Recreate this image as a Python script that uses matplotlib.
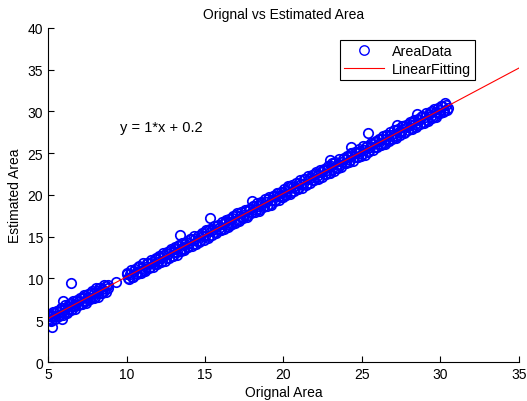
import matplotlib
matplotlib.use("Agg")
import matplotlib.pyplot as plt

plt.rcParams['font.family'] = ['Liberation Sans', 'DejaVu Sans']

# lower cluster of measured areas (middle of band)
x_low = [5.00, 5.08, 5.17, 5.27, 5.36, 5.44, 5.55, 5.63, 5.72, 5.81,
         5.90, 5.99, 6.08, 6.18, 6.27, 6.35, 6.46, 6.54, 6.63, 6.72,
         6.82, 6.90, 7.00, 7.09, 7.18, 7.27, 7.36, 7.45, 7.55, 7.63,
         7.72, 7.82, 7.91, 8.00, 8.09, 8.18, 8.27, 8.37, 8.46, 8.55,
         8.68, 8.80]
y_low = [5.55, 4.98, 5.47, 5.07, 5.81, 5.49, 6.15, 5.48, 5.97, 5.76,
         6.45, 5.89, 6.38, 5.98, 6.72, 6.40, 7.06, 6.39, 6.88, 6.67,
         7.37, 6.80, 7.30, 6.89, 7.63, 7.32, 7.96, 7.30, 7.80, 7.58,
         8.27, 7.72, 8.21, 7.80, 8.54, 8.23, 8.87, 8.22, 8.71, 8.50,
         9.05, 8.85]

# lower cluster, points along the upper and lower edge
x_low_top = [5.06, 5.31, 5.56, 5.81, 6.06, 6.31, 6.56, 6.81, 7.06, 7.31, 7.56, 7.81, 8.06, 8.31, 8.56]
y_low_top = [5.71, 6.03, 6.14, 6.49, 6.81, 6.91, 7.26, 7.36, 7.71, 8.03, 8.14, 8.49, 8.81, 8.91, 9.26]
x_low_bot = [5.19, 5.44, 5.69, 5.94, 6.19, 6.44, 6.69, 6.94, 7.19, 7.44, 7.69, 7.94, 8.19, 8.44, 8.69]
y_low_bot = [4.94, 5.12, 5.51, 5.66, 5.84, 6.24, 6.39, 6.79, 6.94, 7.12, 7.51, 7.66, 7.84, 8.24, 8.39]

# upper cluster (middle of band)
x_high = [10.00, 10.12, 10.25, 10.37, 10.50, 10.62, 10.74, 10.87, 10.99, 11.12,
          11.25, 11.37, 11.50, 11.62, 11.75, 11.87, 11.99, 12.12, 12.24, 12.37,
          12.50, 12.62, 12.75, 12.87, 13.00, 13.12, 13.24, 13.37, 13.49, 13.62,
          13.75, 13.87, 14.00, 14.12, 14.25, 14.37, 14.49, 14.62, 14.74, 14.87,
          15.00, 15.12, 15.25, 15.37, 15.50, 15.62, 15.74, 15.87, 15.99, 16.12,
          16.25, 16.37, 16.50, 16.62, 16.75, 16.87, 16.99, 17.12, 17.24, 17.37,
          17.50, 17.62, 17.75, 17.87, 18.00, 18.12, 18.24, 18.37, 18.49, 18.62,
          18.75, 18.87, 19.00, 19.12, 19.25, 19.37, 19.49, 19.62, 19.74, 19.87,
          20.00, 20.12, 20.25, 20.37, 20.50, 20.62, 20.74, 20.87, 20.99, 21.12,
          21.25, 21.37, 21.50, 21.62, 21.75, 21.87, 21.99, 22.12, 22.24, 22.37,
          22.50, 22.62, 22.75, 22.87, 23.00, 23.12, 23.24, 23.37, 23.49, 23.62,
          23.75, 23.87, 24.00, 24.12, 24.25, 24.37, 24.49, 24.62, 24.74, 24.87,
          25.00, 25.12, 25.25, 25.37, 25.50, 25.62, 25.74, 25.87, 25.99, 26.12,
          26.25, 26.37, 26.50, 26.62, 26.75, 26.87, 26.99, 27.12, 27.24, 27.37,
          27.50, 27.62, 27.75, 27.87, 28.00, 28.12, 28.24, 28.37, 28.49, 28.62,
          28.75, 28.87, 29.00, 29.12, 29.25, 29.37, 29.49, 29.62, 29.74, 29.87,
          30.00, 30.12, 30.25, 30.37, 30.50]
y_high = [10.55, 10.02, 10.55, 10.17, 10.95, 10.67, 11.34, 10.72, 11.24, 11.07,
          11.40, 11.87, 11.35, 12.02, 11.70, 12.47, 11.99, 12.47, 12.04, 12.82,
          12.40, 12.92, 13.30, 12.67, 13.20, 13.57, 13.19, 13.97, 13.59, 13.47,
          14.15, 13.72, 14.25, 14.67, 14.15, 14.72, 14.54, 14.42, 15.24, 15.07,
          15.05, 15.72, 15.05, 15.67, 15.95, 15.57, 16.29, 16.02, 15.84, 16.52,
          16.80, 16.27, 16.80, 16.42, 17.20, 16.92, 17.59, 16.97, 17.49, 17.32,
          17.65, 18.12, 17.60, 18.27, 17.95, 18.72, 18.24, 18.72, 18.29, 19.07,
          18.65, 19.17, 19.55, 18.92, 19.45, 19.82, 19.44, 20.22, 19.84, 19.72,
          20.40, 19.97, 20.50, 20.92, 20.40, 20.97, 20.79, 20.67, 21.49, 21.32,
          21.30, 21.97, 21.30, 21.92, 22.20, 21.82, 22.54, 22.27, 22.09, 22.77,
          23.05, 22.52, 23.05, 22.67, 23.45, 23.17, 23.84, 23.22, 23.74, 23.57,
          23.90, 24.37, 23.85, 24.52, 24.20, 24.97, 24.49, 24.97, 24.54, 25.32,
          24.90, 25.42, 25.80, 25.17, 25.70, 26.07, 25.69, 26.47, 26.09, 25.97,
          26.65, 26.22, 26.75, 27.17, 26.65, 27.22, 27.04, 26.92, 27.74, 27.57,
          27.55, 28.22, 27.55, 28.17, 28.45, 28.07, 28.79, 28.52, 28.34, 29.02,
          29.30, 28.77, 29.30, 28.92, 29.70, 29.42, 30.09, 29.47, 29.99, 29.82,
          30.15, 30.62, 30.10, 30.77, 30.45]

# upper cluster, points along the upper edge
x_high_top = [10.06, 10.31, 10.56, 10.81, 11.06, 11.31, 11.56, 11.81,
              12.06, 12.31, 12.56, 12.81, 13.06, 13.31, 13.56, 13.81,
              14.06, 14.31, 14.56, 14.81, 15.06, 15.31, 15.56, 15.81,
              16.06, 16.31, 16.56, 16.81, 17.06, 17.31, 17.56, 17.81,
              18.06, 18.31, 18.56, 18.81, 19.06, 19.31, 19.56, 19.81,
              20.06, 20.31, 20.56, 20.81, 21.06, 21.31, 21.56, 21.81,
              22.06, 22.31, 22.56, 22.81, 23.06, 23.31, 23.56, 23.81,
              24.06, 24.31, 24.56, 24.81, 25.06, 25.31, 25.56, 25.81,
              26.06, 26.31, 26.56, 26.81, 27.06, 27.31, 27.56, 27.81,
              28.06, 28.31, 28.56, 28.81, 29.06, 29.31, 29.56, 29.81,
              30.06, 30.31]
y_high_top = [10.71, 11.03, 11.14, 11.49, 11.81, 11.91, 12.26, 12.36,
              12.71, 13.03, 13.14, 13.49, 13.81, 13.91, 14.26, 14.36,
              14.71, 15.03, 15.14, 15.49, 15.81, 15.91, 16.26, 16.36,
              16.71, 17.03, 17.14, 17.49, 17.81, 17.91, 18.26, 18.36,
              18.71, 19.03, 19.14, 19.49, 19.81, 19.91, 20.26, 20.36,
              20.71, 21.03, 21.14, 21.49, 21.81, 21.91, 22.26, 22.36,
              22.71, 23.03, 23.14, 23.49, 23.81, 23.91, 24.26, 24.36,
              24.71, 25.03, 25.14, 25.49, 25.81, 25.91, 26.26, 26.36,
              26.71, 27.03, 27.14, 27.49, 27.81, 27.91, 28.26, 28.36,
              28.71, 29.03, 29.14, 29.49, 29.81, 29.91, 30.26, 30.36,
              30.71, 31.03]

# upper cluster, points along the lower edge
x_high_bot = [10.19, 10.44, 10.69, 10.94, 11.19, 11.44, 11.69, 11.94,
              12.19, 12.44, 12.69, 12.94, 13.19, 13.44, 13.69, 13.94,
              14.19, 14.44, 14.69, 14.94, 15.19, 15.44, 15.69, 15.94,
              16.19, 16.44, 16.69, 16.94, 17.19, 17.44, 17.69, 17.94,
              18.19, 18.44, 18.69, 18.94, 19.19, 19.44, 19.69, 19.94,
              20.19, 20.44, 20.69, 20.94, 21.19, 21.44, 21.69, 21.94,
              22.19, 22.44, 22.69, 22.94, 23.19, 23.44, 23.69, 23.94,
              24.19, 24.44, 24.69, 24.94, 25.19, 25.44, 25.69, 25.94,
              26.19, 26.44, 26.69, 26.94, 27.19, 27.44, 27.69, 27.94,
              28.19, 28.44, 28.69, 28.94, 29.19, 29.44, 29.69, 29.94,
              30.19, 30.44]
y_high_bot = [9.94, 10.12, 10.51, 10.66, 10.84, 11.24, 11.39, 11.79,
              11.94, 12.12, 12.51, 12.66, 12.84, 13.24, 13.39, 13.79,
              13.94, 14.12, 14.51, 14.66, 14.84, 15.24, 15.39, 15.79,
              15.94, 16.12, 16.51, 16.66, 16.84, 17.24, 17.39, 17.79,
              17.94, 18.12, 18.51, 18.66, 18.84, 19.24, 19.39, 19.79,
              19.94, 20.12, 20.51, 20.66, 20.84, 21.24, 21.39, 21.79,
              21.94, 22.12, 22.51, 22.66, 22.84, 23.24, 23.39, 23.79,
              23.94, 24.12, 24.51, 24.66, 24.84, 25.24, 25.39, 25.79,
              25.94, 26.12, 26.51, 26.66, 26.84, 27.24, 27.39, 27.79,
              27.94, 28.12, 28.51, 28.66, 28.84, 29.24, 29.39, 29.79,
              29.94, 30.12]

# scattered points off the main band
x_out = [5.25, 5.87, 5.98, 6.45, 8.80, 9.33, 13.40, 15.30, 18.00, 22.96, 24.30, 25.40, 27.20, 28.50]
y_out = [4.20, 5.15, 7.34, 9.45, 9.20, 9.58, 15.20, 17.20, 19.30, 24.20, 25.70, 27.40, 28.40, 29.70]

# linear fit
slope = 1.0
intercept = 0.2
fit_x = [5, 35]

area_x = x_low + x_low_top + x_low_bot + x_high + x_high_top + x_high_bot + x_out
area_y = y_low + y_low_top + y_low_bot + y_high + y_high_top + y_high_bot + y_out

fig = plt.figure(figsize=(5.27, 4.02), dpi=100)
ax = fig.add_axes([0.0911, 0.097, 0.8937, 0.831])

ax.plot(area_x, area_y, 'o', linestyle='none', markerfacecolor='none',
        markeredgecolor='#0000ff', markersize=6.8, markeredgewidth=1.25,
        label='AreaData')
ax.plot(fit_x, [slope * v + intercept for v in fit_x], color='#ff0000',
        linewidth=0.8, label='LinearFitting')

ax.text(9.6, 28.1, 'y = 1*x + 0.2', fontsize=10.5, va='center')

ax.set_xlim(5, 35)
ax.set_ylim(0, 40)
ax.set_xticks(range(5, 36, 5))
ax.set_yticks(range(0, 41, 5))
ax.tick_params(direction='in', length=4, labelsize=10, width=0.8)
ax.spines['top'].set_visible(False)
ax.spines['right'].set_visible(False)

ax.set_title('Orignal vs Estimated Area', fontsize=10, pad=7)
ax.set_xlabel('Orignal Area', fontsize=10, labelpad=3)
ax.set_ylabel('Estimated Area', fontsize=10, labelpad=4)

leg = ax.legend(loc='upper left', bbox_to_anchor=(0.62, 0.964), fontsize=10.3,
                fancybox=False, edgecolor='black', framealpha=1,
                handlelength=2.8, handletextpad=0.5, borderpad=0.3,
                labelspacing=0.25, borderaxespad=0)
leg.get_frame().set_linewidth(0.8)
for h in leg.legend_handles[:1]:
    h.set_markeredgewidth(1.0)

fig.savefig('out.png', dpi=100)
